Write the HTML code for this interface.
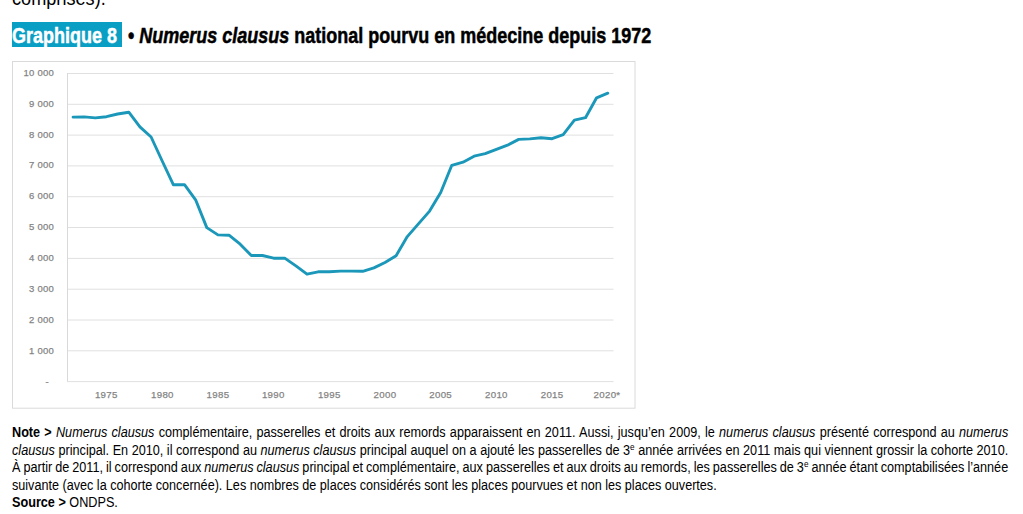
<!DOCTYPE html>
<html><head><meta charset="utf-8">
<style>
html,body{margin:0;padding:0;background:#fff;}
body{width:1023px;height:514px;position:relative;overflow:hidden;font-family:"Liberation Sans",sans-serif;color:#000;}
.abs{position:absolute;white-space:nowrap;}
.top{left:12px;top:-13px;font-size:19.5px;line-height:22px;transform-origin:0 0;transform:scaleX(0.93);}
.badge{position:absolute;left:12px;top:22px;width:110px;height:25px;background:#099ec3;}
.badgetxt{left:12px;top:23px;font-size:22.3px;line-height:26px;font-weight:bold;color:#fff;transform-origin:0 0;transform:scaleX(0.807);-webkit-text-stroke:0.5px #fff;}
.title{left:128px;top:23px;font-size:22.3px;line-height:26px;font-weight:bold;transform-origin:0 0;transform:scaleX(0.807);-webkit-text-stroke:0.5px #000;}
.ylab{position:absolute;right:969px;font-size:9.5px;letter-spacing:0.25px;color:#7f7f7f;line-height:10px;text-align:right;white-space:nowrap;-webkit-text-stroke:0.25px #8a8a8a;}
.xlab{position:absolute;top:388.5px;font-size:9.7px;letter-spacing:0.3px;color:#7f7f7f;line-height:12px;width:40px;margin-left:-20px;text-align:center;-webkit-text-stroke:0.25px #8a8a8a;}
.note{position:absolute;left:12px;font-size:14px;line-height:17px;transform-origin:0 0;transform:scaleX(0.904);white-space:nowrap;}
.j{text-align:justify;text-align-last:justify;width:1102px;white-space:normal;word-spacing:-2px;}
sup{font-size:9px;vertical-align:5px;line-height:0;}
</style></head>
<body>
<div class="abs top">comprises).</div>
<div class="badge"></div>
<div class="abs badgetxt">Graphique 8</div>
<div class="abs title">• <i>Numerus clausus</i> national pourvu en médecine depuis 1972</div>

<svg width="1023" height="514" style="position:absolute;left:0;top:0">
 <rect x="12.5" y="61.5" width="622.5" height="346.7" fill="none" stroke="#dadada" stroke-width="1"/>
 <g stroke="#e0e0e0" stroke-width="1">
  <line x1="67" y1="73.5" x2="613.5" y2="73.5"/>
  <line x1="67" y1="104.3" x2="613.5" y2="104.3"/>
  <line x1="67" y1="135.1" x2="613.5" y2="135.1"/>
  <line x1="67" y1="165.9" x2="613.5" y2="165.9"/>
  <line x1="67" y1="196.7" x2="613.5" y2="196.7"/>
  <line x1="67" y1="227.5" x2="613.5" y2="227.5"/>
  <line x1="67" y1="258.4" x2="613.5" y2="258.4"/>
  <line x1="67" y1="289.2" x2="613.5" y2="289.2"/>
  <line x1="67" y1="320.0" x2="613.5" y2="320.0"/>
  <line x1="67" y1="350.8" x2="613.5" y2="350.8"/>
  <line x1="67" y1="381.6" x2="613.5" y2="381.6"/>
  <line x1="67.5" y1="73" x2="67.5" y2="381.5" stroke="#d9d9d9"/>
 </g>
 <polyline fill="none" stroke="#1a97b9" stroke-width="2.9" stroke-linejoin="round" stroke-linecap="round" points="73.1,117.1 84.2,116.9 95.3,117.9 106.5,116.7 117.6,114.0 128.8,112.2 139.9,126.9 151.1,137.0 162.2,161.0 173.3,184.7 184.5,184.7 195.6,199.8 206.8,227.6 217.9,234.9 229.0,235.2 240.2,244.2 251.3,255.5 262.5,255.5 273.6,258.2 284.7,258.1 295.9,265.9 307.0,274.2 318.1,271.8 329.3,271.8 340.4,271.1 351.6,271.1 362.7,271.3 373.9,267.9 385.0,262.5 396.1,255.7 407.3,236.6 418.4,223.9 429.6,211.1 440.7,192.5 451.8,165.3 463.0,162.2 474.1,156.2 485.2,153.7 496.4,149.3 507.5,145.2 518.7,139.4 529.8,138.9 541.0,137.7 552.1,138.7 563.2,134.6 574.4,120.2 585.5,117.7 596.6,97.8 607.8,93.2"/>
</svg>

<div class="ylab" style="top:67.7px">10 000</div>
<div class="ylab" style="top:98.7px">9 000</div>
<div class="ylab" style="top:129.7px">8 000</div>
<div class="ylab" style="top:160.2px">7 000</div>
<div class="ylab" style="top:191.2px">6 000</div>
<div class="ylab" style="top:222.2px">5 000</div>
<div class="ylab" style="top:253.2px">4 000</div>
<div class="ylab" style="top:283.7px">3 000</div>
<div class="ylab" style="top:314.7px">2 000</div>
<div class="ylab" style="top:345.7px">1 000</div>
<div class="ylab" style="top:377.1px;right:974px">-</div>

<div class="xlab" style="left:106.3px">1975</div>
<div class="xlab" style="left:162.4px">1980</div>
<div class="xlab" style="left:218px">1985</div>
<div class="xlab" style="left:273.3px">1990</div>
<div class="xlab" style="left:329.3px">1995</div>
<div class="xlab" style="left:385px">2000</div>
<div class="xlab" style="left:440.7px">2005</div>
<div class="xlab" style="left:496.4px">2010</div>
<div class="xlab" style="left:552.1px">2015</div>
<div class="xlab" style="left:607px">2020*</div>

<div class="note j" style="top:424.3px"><b>Note &gt;</b> <i>Numerus clausus</i> complémentaire, passerelles et droits aux remords apparaissent en 2011. Aussi, jusqu’en 2009, le <i>numerus clausus</i> présenté correspond au <i>numerus</i></div>
<div class="note j" style="top:441.7px"><i>clausus</i> principal. En 2010, il correspond au <i>numerus clausus</i> principal auquel on a ajouté les passerelles de 3<sup>e</sup> année arrivées en 2011 mais qui viennent grossir la cohorte 2010.</div>
<div class="note j" style="top:459.1px">À partir de 2011, il correspond aux <i>numerus clausus</i> principal et complémentaire, aux passerelles et aux droits au remords, les passerelles de 3<sup>e</sup> année étant comptabilisées l’année</div>
<div class="note" style="top:476.5px;transform:scaleX(0.901)">suivante (avec la cohorte concernée). Les nombres de places considérés sont les places pourvues et non les places ouvertes.</div>
<div class="note" style="top:493.9px"><b>Source &gt;</b> ONDPS.</div>
</body></html>
